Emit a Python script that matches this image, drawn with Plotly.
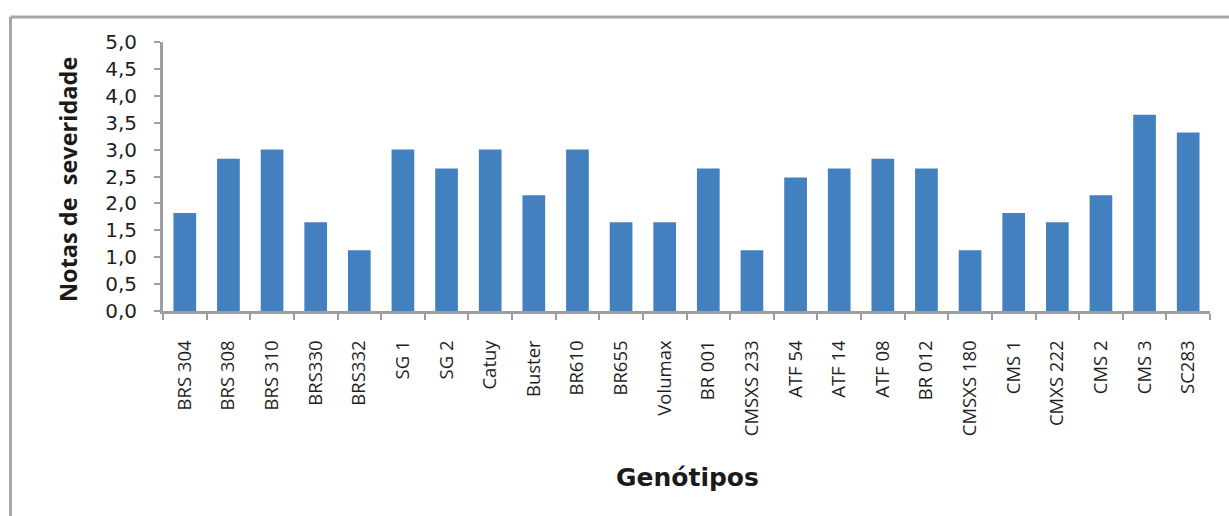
import plotly.graph_objects as go

genotipos = ["BRS 304", "BRS 308", "BRS 310", "BRS330", "BRS332", "SG 1", "SG 2", "Catuy",
             "Buster", "BR610", "BR655", "Volumax", "BR 001", "CMSXS 233", "ATF 54", "ATF 14",
             "ATF 08", "BR 012", "CMSXS 180", "CMS 1", "CMXS 222", "CMS 2", "CMS 3", "SC283"]
notas = [1.82, 2.83, 3.0, 1.65, 1.13, 3.0, 2.65, 3.0,
         2.15, 3.0, 1.65, 1.65, 2.65, 1.13, 2.48, 2.65,
         2.83, 2.65, 1.13, 1.82, 1.65, 2.15, 3.65, 3.32]
y_ticks = [0, 0.5, 1, 1.5, 2, 2.5, 3, 3.5, 4, 4.5, 5]

W, H = 1229, 516
L, R, T, B = 163, 19, 42, 205
pw, ph = W - L - R, H - T - B

def px_x(x):
    return (x - L) / pw

def px_y(y):
    return (H - B - y) / ph

fig = go.Figure(go.Bar(x=genotipos, y=notas, marker=dict(color="#4280BF", line=dict(width=0))))

axis_col = "#9E9E9E"
fig.update_layout(
    width=W, height=H,
    margin=dict(l=L, r=R, t=T, b=B),
    paper_bgcolor="white", plot_bgcolor="white",
    separators=",.",
    bargap=0.48,
    showlegend=False,
    font=dict(family="DejaVu Sans", color="#1F1F1F"),
    xaxis=dict(
        type="category", showgrid=False, showline=True, linecolor=axis_col, linewidth=3,
        ticks="outside", tickson="boundaries", ticklen=6, tickwidth=2, tickcolor=axis_col,
        tickangle=-90, tickfont=dict(family="Open Sans", size=18.5, color="#1F1F1F"),
        ticklabelstandoff=19,
    ),
    yaxis=dict(
        range=[0, 5], tickvals=y_ticks, tickformat=".1f", showgrid=False, zeroline=False,
        showline=True, linecolor=axis_col, linewidth=3,
        ticks="outside", ticklen=6, tickwidth=2, tickcolor=axis_col,
        tickfont=dict(family="DejaVu Sans", size=20, color="#1F1F1F"),
        ticklabelstandoff=13,
    ),
    annotations=[
        dict(text="<b>Notas de  severidade</b>", xref="paper", yref="paper",
             x=px_x(68), y=px_y(180), textangle=-90, showarrow=False,
             font=dict(family="Open Sans", size=23.5, color="#1A1A1A"),
             xanchor="center", yanchor="middle"),
        dict(text="<b>Genótipos</b>", xref="paper", yref="paper",
             x=px_x(687), y=px_y(477), showarrow=False,
             font=dict(family="DejaVu Sans", size=25, color="#1A1A1A"),
             xanchor="center", yanchor="middle"),
    ],
    shapes=[
        dict(type="line", xref="paper", yref="paper", x0=px_x(10.5), x1=px_x(1235),
             y0=px_y(17), y1=px_y(17), line=dict(color="#A6A6A6", width=3)),
        dict(type="line", xref="paper", yref="paper", x0=px_x(10.5), x1=px_x(10.5),
             y0=px_y(17), y1=px_y(530), line=dict(color="#A6A6A6", width=3)),
    ],
)

fig.write_html("out.html", config={"displayModeBar": False},
               post_script="document.body.style.margin='0';document.body.style.overflow='hidden';")
